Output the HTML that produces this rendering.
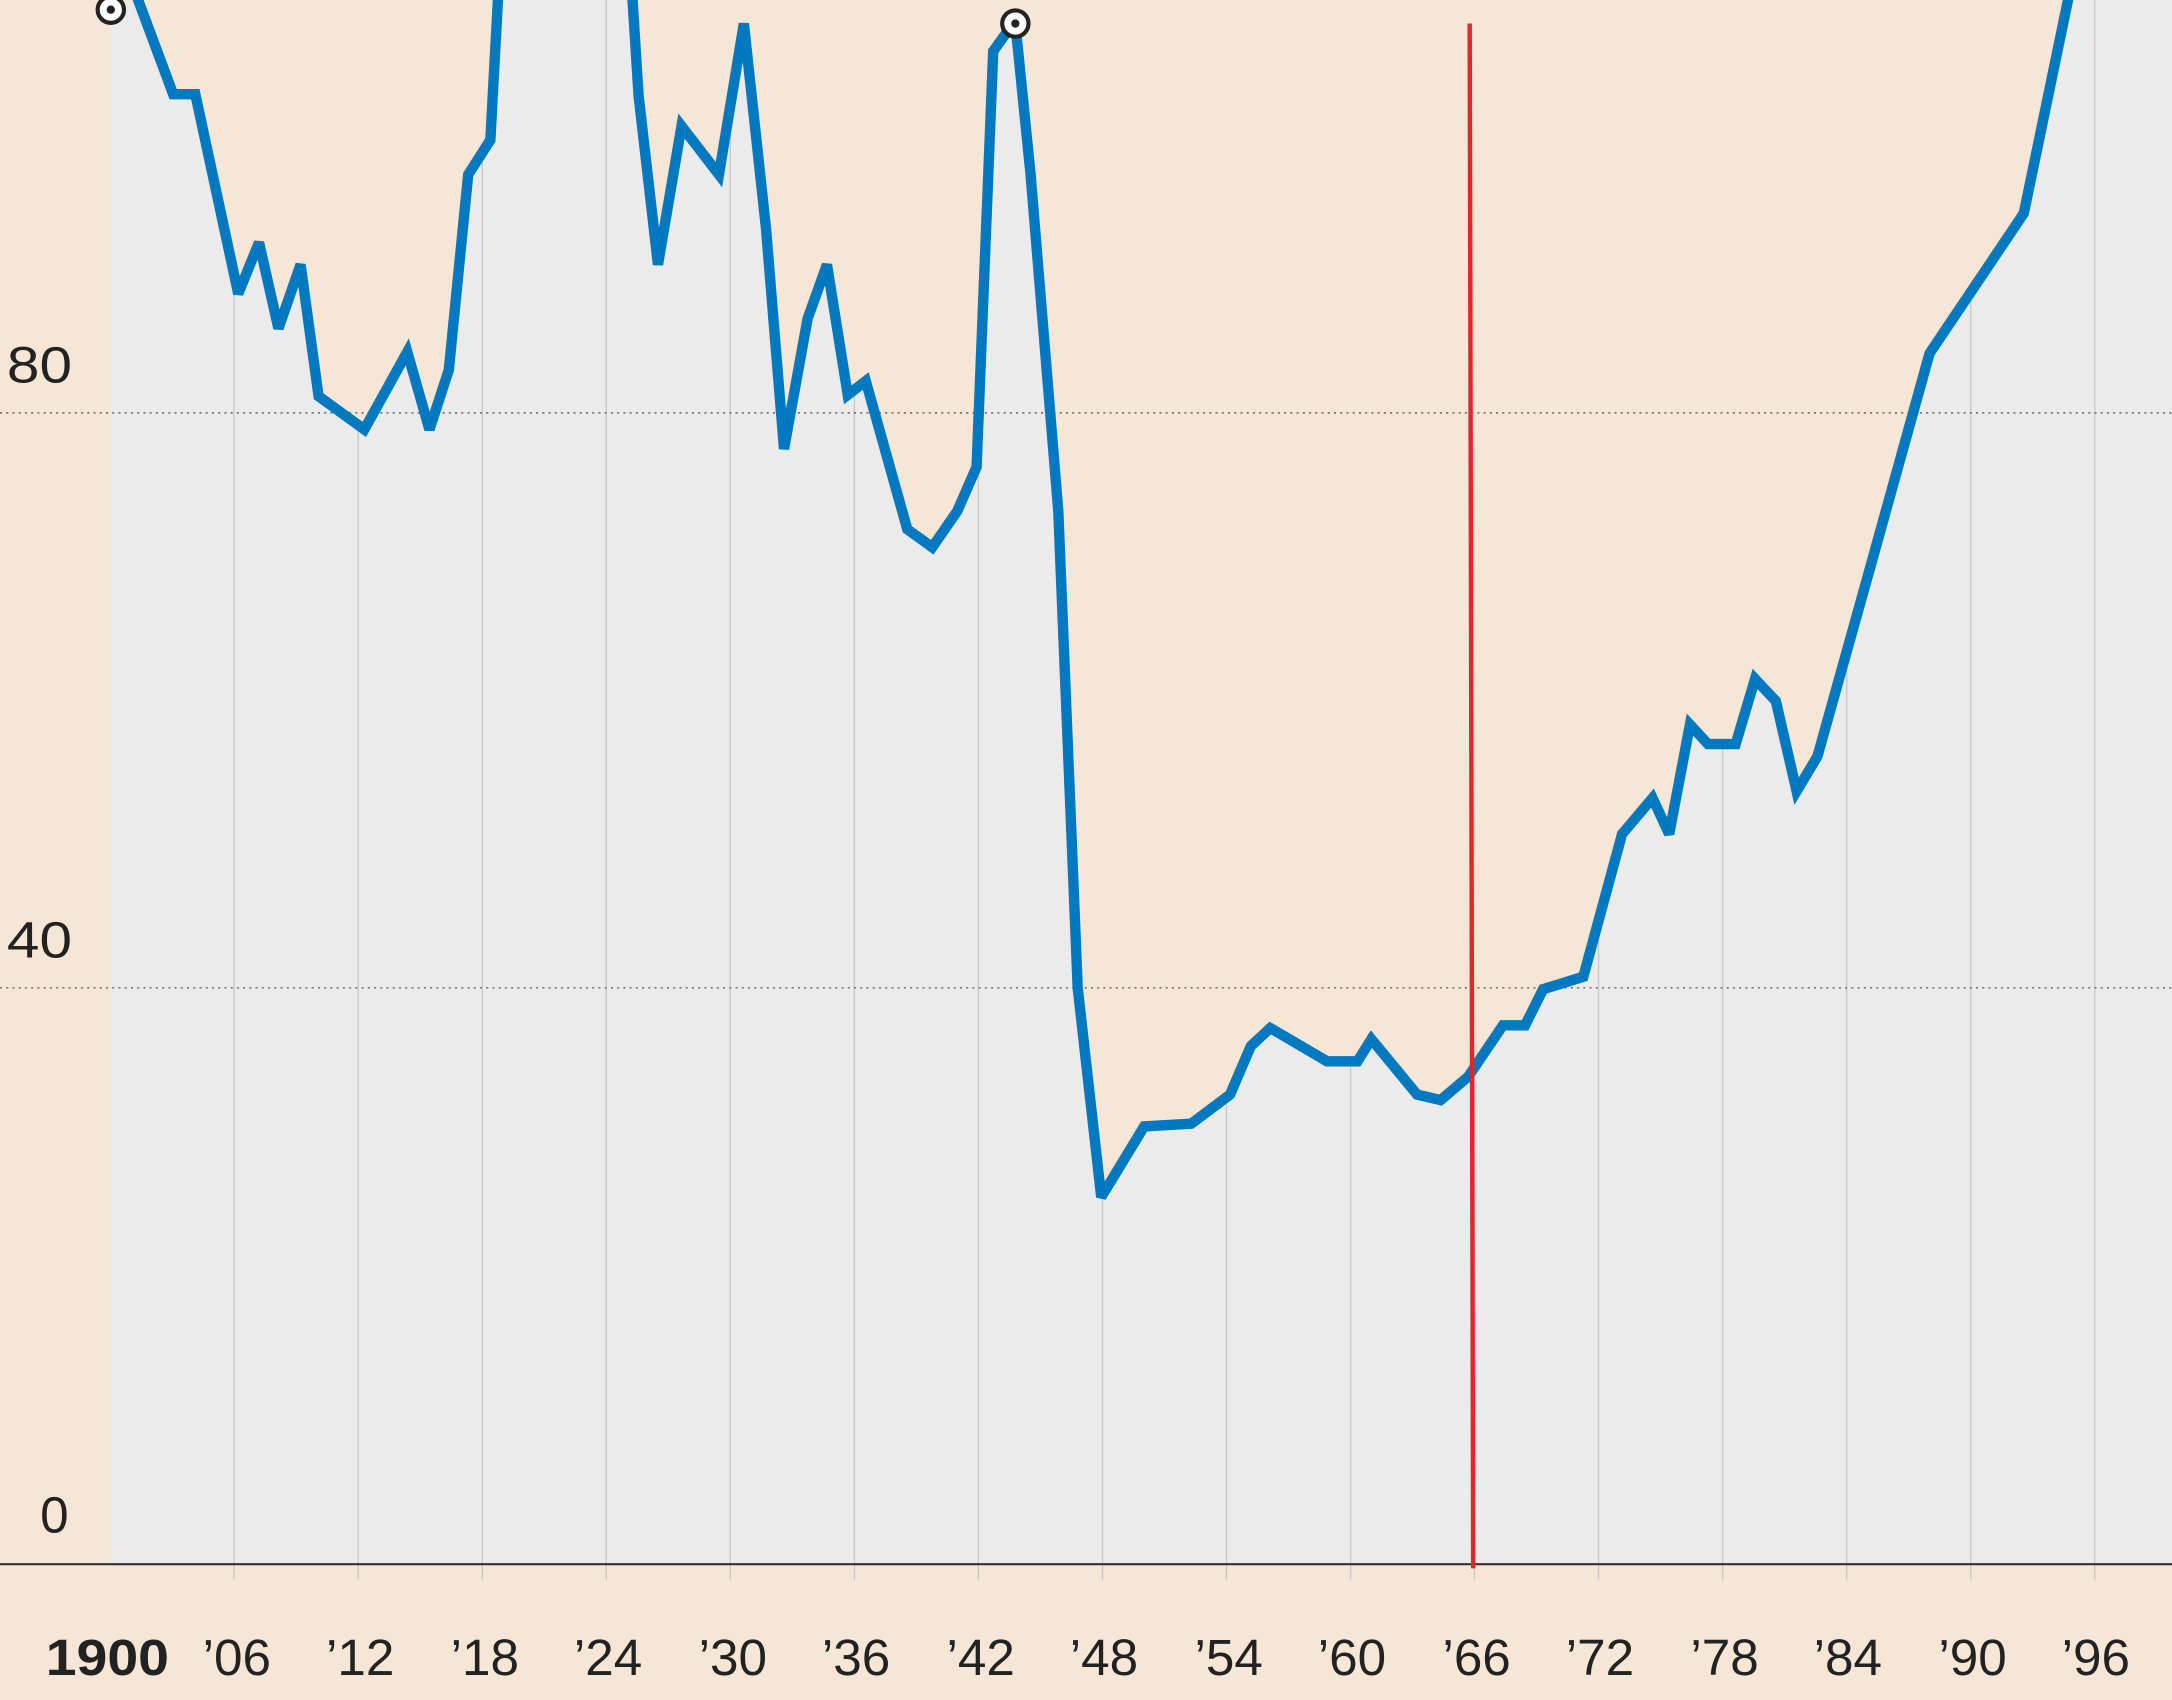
<!DOCTYPE html>
<html><head><style>html,body{margin:0;padding:0;background:#f5e6d6;}svg{display:block}</style></head>
<body>
<svg width="2172" height="1700" viewBox="0 0 1568 1227" preserveAspectRatio="none" xmlns="http://www.w3.org/2000/svg">
<rect x="0" y="0" width="1568" height="1227" fill="#f5e6d6"/>
<rect x="80" y="0" width="1488" height="1129" fill="#ebebeb"/>
<g stroke="#c9c9c9" stroke-width="1">
<line x1="169" y1="0" x2="169" y2="1140"/><line x1="258.6" y1="0" x2="258.6" y2="1140"/><line x1="348.2" y1="0" x2="348.2" y2="1140"/><line x1="437.7" y1="0" x2="437.7" y2="1140"/><line x1="527.2" y1="0" x2="527.2" y2="1140"/><line x1="616.8" y1="0" x2="616.8" y2="1140"/><line x1="706.3" y1="0" x2="706.3" y2="1140"/><line x1="795.9" y1="0" x2="795.9" y2="1140"/><line x1="885.4" y1="0" x2="885.4" y2="1140"/><line x1="975" y1="0" x2="975" y2="1140"/><line x1="1064.5" y1="0" x2="1064.5" y2="1140"/><line x1="1154" y1="0" x2="1154" y2="1140"/><line x1="1243.6" y1="0" x2="1243.6" y2="1140"/><line x1="1333.1" y1="0" x2="1333.1" y2="1140"/><line x1="1422.7" y1="0" x2="1422.7" y2="1140"/><line x1="1512.2" y1="0" x2="1512.2" y2="1140"/>
</g>
<polygon fill="#f5e6d6" points="80,7 100,0 125,68 141,68 172,212 187,175 201,237 217,191 230,286 263,310 294,254 310,310 324,267 338,126 354,101 362,-20 454,-20 461,69 475,191 492,91 519,126 537,17 553,165 566,324 583,230 597,191 612,285 625,275 655,382 673,395 691,369 705,337 717,37 733,17 744,126 764,369 778,713 795,864 826,813 860,811 888,790 903,755 917,742 958,766 980,766 990,750 1023,790 1040,794 1060,777 1085,740 1101,740 1114,714 1143,705 1171,602 1193,576 1205,602 1220,523 1233,537 1253,537 1267,490 1282,506 1297,571 1312,546 1350,410 1393,255 1461,154 1497,-20 80,-20"/>
<g stroke="#666" stroke-width="1" stroke-dasharray="1.5,3">
<line x1="0" y1="298" x2="1568" y2="298"/><line x1="0" y1="713" x2="1568" y2="713"/>
</g>
<line x1="0" y1="1129" x2="1568" y2="1129" stroke="#333" stroke-width="1.5"/>
<polyline fill="none" stroke="#0079c1" stroke-width="7.5" stroke-linejoin="miter" stroke-miterlimit="3" points="96,-10 125,68 141,68 172,212 187,175 201,237 217,191 230,286 263,310 294,254 310,310 324,267 338,126 354,101 360,-10"/>
<polyline fill="none" stroke="#0079c1" stroke-width="7.5" stroke-linejoin="miter" stroke-miterlimit="3" points="456,-10 461,69 475,191 492,91 519,126 537,17 553,165 566,324 583,230 597,191 612,285 625,275 655,382 673,395 691,369 705,337 717,37 727,23 733,17 744,126 764,369 778,713 795,864 826,813 860,811 888,790 903,755 917,742 958,766 980,766 990,750 1023,790 1040,794 1060,777 1085,740 1101,740 1114,714 1143,705 1171,602 1193,576 1205,602 1220,523 1233,537 1253,537 1267,490 1282,506 1297,571 1312,546 1350,410 1393,255 1461,154 1495,-10"/>
<line x1="1061" y1="17" x2="1063.5" y2="1132" stroke="#e3262b" stroke-width="3.2"/>
<g><circle cx="80" cy="7" r="9.5" fill="#fff" stroke="#222" stroke-width="3"/><circle cx="80" cy="7" r="3" fill="#222"/>
<circle cx="733" cy="17" r="9.5" fill="#fff" stroke="#222" stroke-width="3"/><circle cx="733" cy="17" r="3" fill="#222"/></g>
<g font-family="Liberation Sans, sans-serif" font-size="37" fill="#222">
<text x="5" y="276" textLength="47" lengthAdjust="spacingAndGlyphs">80</text>
<text x="5" y="691" textLength="47" lengthAdjust="spacingAndGlyphs">40</text>
<text x="29" y="1106">0</text>
</g>
<g font-family="Liberation Sans, sans-serif" font-size="37" fill="#222" text-anchor="middle">
<text x="33" y="1209" text-anchor="start" font-weight="bold" textLength="89" lengthAdjust="spacingAndGlyphs">1900</text>
<text x="171" y="1209">’06</text><text x="260" y="1209">’12</text><text x="350" y="1209">’18</text><text x="439" y="1209">’24</text><text x="529" y="1209">’30</text><text x="618" y="1209">’36</text><text x="708" y="1209">’42</text><text x="797" y="1209">’48</text><text x="887" y="1209">’54</text><text x="976" y="1209">’60</text><text x="1066" y="1209">’66</text><text x="1155" y="1209">’72</text><text x="1245" y="1209">’78</text><text x="1334" y="1209">’84</text><text x="1424" y="1209">’90</text><text x="1513" y="1209">’96</text>
</g>
</svg>
</body></html>
